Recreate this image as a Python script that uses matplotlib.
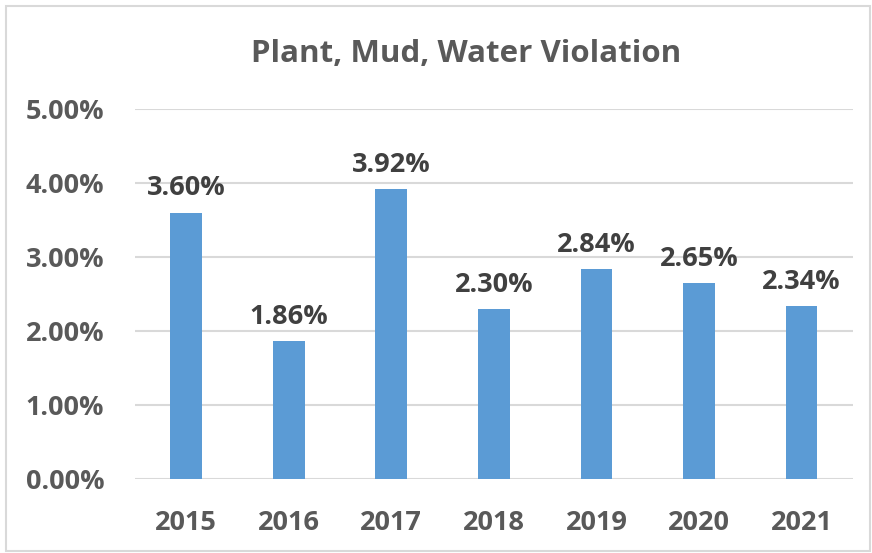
import matplotlib.pyplot as plt
from matplotlib.patches import Rectangle
from matplotlib.ticker import FuncFormatter

years = ['2015', '2016', '2017', '2018', '2019', '2020', '2021']
rates = [3.60, 1.86, 3.92, 2.30, 2.84, 2.65, 2.34]
yticks = [0, 1, 2, 3, 4, 5]

plt.rcParams['font.family'] = ['Open Sans', 'DejaVu Sans']
plt.rcParams['font.weight'] = 'bold'

fig = plt.figure(figsize=(8.72, 5.53), dpi=100)
ax = fig.add_axes([0.1548, 0.1338, 0.8232, 0.6692])

x = range(len(years))
ax.bar(x, rates, width=0.31, color='#5B9BD5', zorder=3)
for xi, v in zip(x, rates):
    ax.text(xi, v + 0.15, f'{v:.2f}%', ha='center', va='bottom',
            fontsize=19.5, fontweight='bold', color='#404040')

ax.set_xlim(-0.5, len(years) - 0.5)
ax.set_ylim(0, 5)
ax.set_yticks(yticks)
ax.yaxis.set_major_formatter(FuncFormatter(lambda v, p: f'{v:.2f}%'))
ax.set_xticks(list(x))
ax.set_xticklabels(years)
ax.tick_params(length=0, labelsize=19.5, colors='#595959')
ax.tick_params(axis='y', pad=22)
ax.tick_params(axis='x', pad=22)
for lab in ax.get_xticklabels() + ax.get_yticklabels():
    lab.set_fontweight('bold')
ax.grid(axis='y', color='#D9D9D9', linewidth=1.5, zorder=0)
for s in ax.spines.values():
    s.set_visible(False)

fig.text(0.534, 0.902, 'Plant, Mud, Water Violation', ha='center', va='center',
         fontsize=22.5, fontweight='bold', color='#595959')

fig.patches.append(Rectangle((6 / 872, 2 / 553), 864 / 872, 545 / 553,
                             transform=fig.transFigure, fill=False,
                             edgecolor='#D9D9D9', linewidth=1.5))

fig.savefig('out.png', dpi=100)
